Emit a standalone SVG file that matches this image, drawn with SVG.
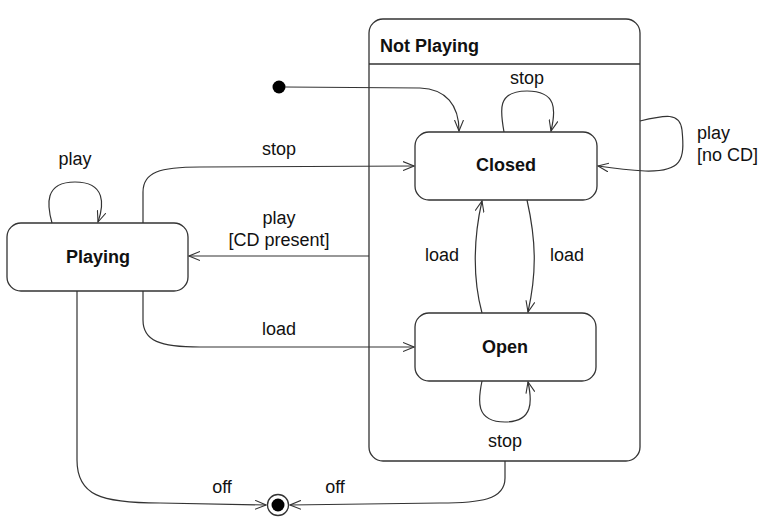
<svg xmlns="http://www.w3.org/2000/svg" width="774" height="519" viewBox="0 0 774 519">
<style>
.st{fill:#fff;stroke:#333;stroke-width:1.3}
.c{fill:none;stroke:#333;stroke-width:1.2}
.t{font-family:"Liberation Sans",Arial,sans-serif;font-size:18px;fill:#111}
.b{font-weight:bold}
</style>
<defs>
<marker id="a" markerWidth="12" markerHeight="10" refX="11" refY="5" orient="auto" markerUnits="userSpaceOnUse">
<path d="M0,0.5 L11,5 L0,9.5" fill="none" stroke="#333" stroke-width="1.1"/>
</marker>
</defs>
<rect width="774" height="519" fill="#fff"/>
<g id="notplaying">
<rect class="st" x="369" y="19" width="271" height="442" rx="14"/>
<line x1="369" y1="64" x2="640" y2="64" stroke="#333" stroke-width="1.3"/>
<text class="t b" x="380" y="52">Not Playing</text>
</g>
<g id="closed">
<rect class="st" x="415" y="132" width="182" height="68" rx="14"/>
<text class="t b" x="506" y="171" text-anchor="middle">Closed</text>
</g>
<g id="open">
<rect class="st" x="415" y="313" width="181" height="68" rx="14"/>
<text class="t b" x="505" y="353" text-anchor="middle">Open</text>
</g>
<g id="playing">
<rect class="st" x="7" y="223" width="181" height="68" rx="14"/>
<text class="t b" x="98" y="263" text-anchor="middle">Playing</text>
</g>
<g id="initial">
<circle cx="279" cy="87" r="6.5" fill="#000"/>
</g>
<g id="final">
<circle cx="278" cy="505" r="10.5" fill="#fff" stroke="#333" stroke-width="1.3"/>
<circle cx="278" cy="505" r="6.5" fill="#000"/>
</g>
<g id="connectors">
<path class="c" d="M285,87 L420,88 C446,89 459,105 459,131" marker-end="url(#a)"/>
<path class="c" d="M504,132 C500,110 497,91 527,91 C557,91 556,110 551,131" marker-end="url(#a)"/>
<path class="c" d="M640,121 C665,115 680,112 682,130 C685,160 682,172 645,171 Q625,170 598,166" marker-end="url(#a)"/>
<path class="c" d="M143,223 L143,192 C143,172 160,167 200,167 L414,166" marker-end="url(#a)"/>
<path class="c" d="M369,256 L189,256" marker-end="url(#a)"/>
<path class="c" d="M143,291 L143,320 C143,341 160,347 200,347 L414,347" marker-end="url(#a)"/>
<path class="c" d="M527,200 C536,240 537,272 528,312" marker-end="url(#a)"/>
<path class="c" d="M482,313 C473,280 473,240 482,201" marker-end="url(#a)"/>
<path class="c" d="M482,381 C478,400 475,422 505,422 C534,422 532,400 528,382" marker-end="url(#a)"/>
<path class="c" d="M505,461 L505,478 C505,500 480,503 440,503 L290,505" marker-end="url(#a)"/>
<path class="c" d="M77,291 L77,460 C77,495 100,503 160,503 L266,505" marker-end="url(#a)"/>
<path class="c" d="M52,223 C47,205 44,182 75,182 C106,182 104,205 98,222" marker-end="url(#a)"/>
<text class="t" x="527" y="84" text-anchor="middle">stop</text>
<text class="t" x="697" y="139">play</text>
<text class="t" x="697" y="161">[no CD]</text>
<text class="t" x="279" y="155" text-anchor="middle">stop</text>
<text class="t" x="279" y="224" text-anchor="middle">play</text>
<text class="t" x="279" y="246" text-anchor="middle">[CD present]</text>
<text class="t" x="279" y="335" text-anchor="middle">load</text>
<text class="t" x="442" y="261" text-anchor="middle">load</text>
<text class="t" x="567" y="261" text-anchor="middle">load</text>
<text class="t" x="505" y="447" text-anchor="middle">stop</text>
<text class="t" x="222" y="493" text-anchor="middle">off</text>
<text class="t" x="335" y="493" text-anchor="middle">off</text>
<text class="t" x="75" y="165" text-anchor="middle">play</text>
</g>
</svg>
